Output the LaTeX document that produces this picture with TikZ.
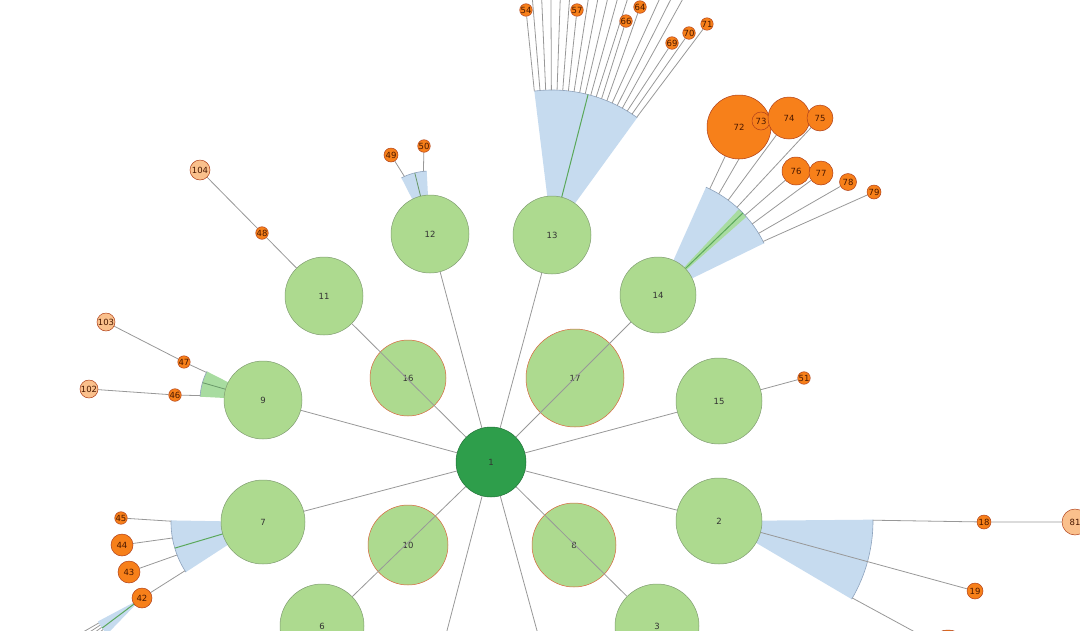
\documentclass[tikz,border=0pt]{standalone}
\usepackage{fontspec}
\setmainfont{DejaVu Sans}

\definecolor{nodegreen}{HTML}{ADDA8F}
\definecolor{nodeedge}{HTML}{7F9C70}
\definecolor{ringedge}{HTML}{D8643C}
\definecolor{rootgreen}{HTML}{2E9E4B}
\definecolor{rootedge}{HTML}{1F7035}
\definecolor{leaforange}{HTML}{F7801A}
\definecolor{leafpale}{HTML}{FAC08C}
\definecolor{leafedge}{HTML}{B0401A}
\definecolor{leaftext}{HTML}{4A1800}
\definecolor{fanblue}{HTML}{C6DBEF}
\definecolor{fangreen}{HTML}{A8DCA0}
\definecolor{rimgray}{HTML}{8EA3BD}
\definecolor{stemgreen}{HTML}{5AA85A}
\definecolor{linkgray}{HTML}{989898}

\pgfdeclarelayer{fans}
\pgfdeclarelayer{links}
\pgfsetlayers{fans,links,main}

\tikzset{
  every node/.style={font=\fontsize{8.5}{9}\selectfont, text=black!80},
  vert/.style={circle, inner sep=0pt, minimum size=2*#1, line width=0.5pt},
  gnode/.style={vert=#1, fill=nodegreen, draw=nodeedge},
  ringnode/.style={vert=#1, fill=nodegreen, draw=ringedge},
  rootnode/.style={vert=#1, fill=rootgreen, draw=rootedge},
  leaf/.style={vert=#1, fill=leaforange, draw=leafedge, text=leaftext},
  paleleaf/.style={vert=#1, fill=leafpale, draw=leafedge, text=leaftext},
  link/.style={draw=linkgray, line width=0.8pt},
  fan/.style={fill=fanblue},
  greenfan/.style={fill=fangreen},
  fanrim/.style={draw=rimgray, line width=0.6pt},
  stem/.style={draw=stemgreen, line width=1pt},
}

\begin{document}
\begin{tikzpicture}[x=1pt,y=-1pt]
    \useasboundingbox (0,0) rectangle (1080,630);
    % tree nodes
    \node[rootnode=35] (n1) at (491,462) {1};
    \node[gnode=43] (n2) at (719,521) {2};
    \node[gnode=42] (n3) at (657,626) {3};
    \node[gnode=42] (n6) at (322,626) {6};
    \node[gnode=42] (n7) at (263,522) {7};
    \node[gnode=39] (n9) at (263,400) {9};
    \node[gnode=39] (n11) at (324,296) {11};
    \node[gnode=39] (n12) at (430,234) {12};
    \node[gnode=39] (n13) at (552,235) {13};
    \node[gnode=38] (n14) at (658,295) {14};
    \node[gnode=43] (n15) at (719,401) {15};
    \coordinate (n4) at (425,715);
    \coordinate (n5) at (560,715);
    %
    \node[leaf=7] (n18) at (984,522) {18};
    \node[leaf=8] (n19) at (975,591) {19};
    \node[leaf=20] (n20) at (948,650) {};
    \node[paleleaf=13] (n81) at (1075,522) {81};
    %
    \node[leaf=10] (n42) at (142,598) {42};
    \node[leaf=11] (n43) at (129,572) {43};
    \node[leaf=11] (n44) at (122,545) {44};
    \node[leaf=5] (n45) at (121,518) {45};
    \node[leaf=6] (n46) at (175,395) {46};
    \node[leaf=6] (n47) at (184,362) {47};
    \node[paleleaf=9] (n102) at (89,389) {102};
    \node[paleleaf=9] (n103) at (106,322) {103};
    \node[leaf=6] (n48) at (262,233) {48};
    \node[paleleaf=10] (n104) at (200,170) {104};
    \node[leaf=7] (n49) at (391,155) {49};
    \node[leaf=6] (n50) at (424,146) {50};
    \node[leaf=6] (n51) at (804,378) {51};
    %
    \node[leaf=4] (n54) at (526,10) {54};
    \node[leaf=4] (n57) at (577,10) {57};
    \node[leaf=4] (n66) at (626,21) {66};
    \node[leaf=4] (n64) at (640,7) {64};
    \node[leaf=4] (n69) at (672,43) {69};
    \node[leaf=4] (n70) at (689,33) {70};
    \node[leaf=4] (n71) at (707,24) {71};
    %
    \node[leaf=32] (n72) at (739,127) {72};
    \node[leaf=9] (n73) at (761,121) {73};
    \node[leaf=21] (n74) at (789,118) {74};
    \node[leaf=13] (n75) at (820,118) {75};
    \node[leaf=14] (n76) at (796,171) {76};
    \node[leaf=12] (n77) at (821,173) {77};
    \node[leaf=8.5] (n78) at (848,182) {78};
    \node[leaf=7] (n79) at (874,192) {79};
    %
    \begin{pgfonlayer}{fans}
    \node[ringnode=38] (n16) at (408,378) {16};
    \node[ringnode=49] (n17) at (575,378) {17};
    \node[ringnode=40] (n10) at (408,545) {10};
    \node[ringnode=42] (n8) at (574,545) {8};
    % fan of 13
    \fill[fan] (n13.center) -- ++(-97:145) arc[start angle=-97, end angle=-54, radius=145] -- cycle;
    \draw[fanrim] ([shift={(-97:145)}]n13.center) arc[start angle=-97, end angle=-54, radius=145];
    \draw[stem] (n13.center) -- ++(-75.6:145);
    % fan of 14
    \fill[fan] (n14.center) -- ++(-66:118) arc[start angle=-66, end angle=-26, radius=118] -- cycle;
    \fill[greenfan] (n14.center) -- ++(-46.7:118) arc[start angle=-46.7, end angle=-41.5, radius=118] -- cycle;
    \draw[fanrim] ([shift={(-66:118)}]n14.center) arc[start angle=-66, end angle=-26, radius=118];
    \draw[stem] (n14.center) -- ++(-44:118);
    % fan of 12
    \fill[fan] (n12.center) -- ++(-93:63) arc[start angle=-93, end angle=-117, radius=63] -- cycle;
    \draw[fanrim] ([shift={(-93:63)}]n12.center) arc[start angle=-93, end angle=-117, radius=63];
    \draw[link, draw=stemgreen!60!gray] (n12.center) -- ++(-104:63);
    % fan of 9
    \fill[greenfan] (n9.center) -- ++(-153:63) arc[start angle=-153, end angle=-177, radius=63] -- cycle;
    \draw[fanrim] ([shift={(-153:63)}]n9.center) arc[start angle=-153, end angle=-177, radius=63];
    \draw[link, draw=stemgreen!60!gray] (n9.center) -- ++(-164:63);
    % fan of 7
    \fill[fan] (n7.center) -- ++(-179:92) arc[start angle=-179, end angle=-213, radius=92] -- cycle;
    \draw[fanrim] ([shift={(-179:92)}]n7.center) arc[start angle=-179, end angle=-213, radius=92];
    \draw[stem] (n7.center) -- ++(-196.5:92);
    % fan of 42
    \fill[fan] (n42.center) -- ++(-208:50) arc[start angle=-208, end angle=-226, radius=50] -- cycle;
    \draw[stem] (n42.center) -- ++(-217:50);
    % fan of 2
    \fill[fan] (n2.center) -- ++(-0.5:154) arc[start angle=-0.5, end angle=30.5, radius=154] -- cycle;
    \draw[fanrim] ([shift={(-0.5:154)}]n2.center) arc[start angle=-0.5, end angle=30.5, radius=154];
    \end{pgfonlayer}
    %
    \begin{pgfonlayer}{links}
    \draw[link] (n1) -- (n2);
    \draw[link] (n1) -- (n3);
    \draw[link] (n1) -- (n4);
    \draw[link] (n1) -- (n5);
    \draw[link] (n1) -- (n6);
    \draw[link] (n1) -- (n7);
    \draw[link] (n1) -- (n9);
    \draw[link] (n1) -- (n11);
    \draw[link] (n1) -- (n12);
    \draw[link] (n1) -- (n13);
    \draw[link] (n1) -- (n14);
    \draw[link] (n1) -- (n15);
    %
    \draw[link] (n2) -- (n19);
    \draw[link] ([shift={(-0.3:154)}]n2.center) -- (n18) -- (n81);
    \draw[link] ([shift={(30:154)}]n2.center) -- (n20);
    \draw[link] (n11) -- (n48) -- (n104);
    \draw[link] (n15) -- (n51);
    \draw[link] ([shift={(-154:63)}]n9.center) -- (n47) -- (n103);
    \draw[link] ([shift={(-176:63)}]n9.center) -- (n46) -- (n102);
    \draw[link] ([shift={(-114:63)}]n12.center) -- (n49);
    \draw[link] ([shift={(-96:63)}]n12.center) -- (n50);
    %
    \draw[link] ([shift={(-179.5:92)}]n7.center) -- (n45);
    \draw[link] ([shift={(-190:92)}]n7.center) -- (n44);
    \draw[link] ([shift={(-201:92)}]n7.center) -- (n43);
    \draw[link] ([shift={(-212:92)}]n7.center) -- (n42);
    \foreach \a in {210,213,216,219,222,225}
        \draw[link] ([shift={(-\a:50)}]n42.center) -- ([shift={(-\a:130)}]n42.center);
    %
    \foreach \a in {94.75,92.5,90.25,88,85.75,81.25,79,76.75,74.5,72.25,65.5,63.25,61}
        \draw[link] ([shift={(-\a:145)}]n13.center) -- ([shift={(-\a:290)}]n13.center);
    \foreach \a/\n in {97/54,83.5/57,70/66,67.75/64,58.75/69,56.5/70,54.25/71}
        \draw[link] ([shift={(-\a:145)}]n13.center) -- (n\n);
    %
    \foreach \a/\n in {64/72,59/73,53.5/74,48/75,42.5/76,37/77,31.5/78,27/79}
        \draw[link] ([shift={(-\a:118)}]n14.center) -- (n\n);
    \end{pgfonlayer}
\end{tikzpicture}
\end{document}
